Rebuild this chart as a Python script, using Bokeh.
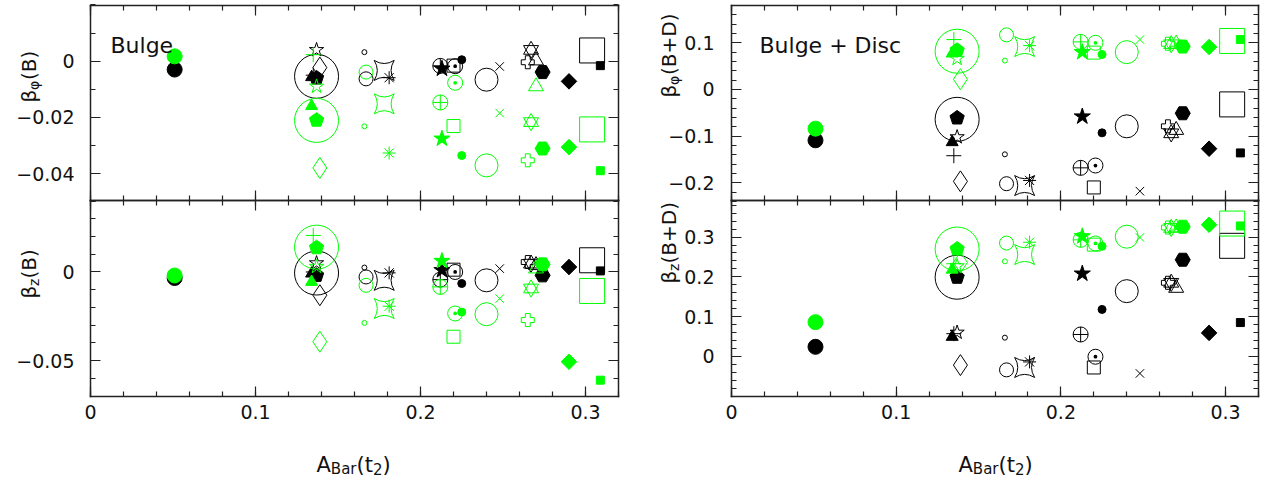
import math
from bokeh.plotting import figure
from bokeh.models import FixedTicker, LinearAxis, Label, Range1d, CustomJSTickFormatter
from bokeh.embed import file_html
from bokeh.resources import INLINE

# ---------------- data ----------------
models = ["fcircle", "bigcircle", "pentagon", "ftriangle", "ostar", "plus", "odiamond",
          "tinycircle", "ocircle", "concsquare", "asterisk", "circplus", "fstar", "circdot",
          "osquare", "smallfcircle", "bigcircle2", "xcross", "davidstar", "greekcross",
          "otriangle", "fhexagon", "fdiamond", "bigsquare", "fsquare"]

A_bar = [0.051, 0.137, 0.137, 0.134, 0.137, 0.135, 0.139, 0.166, 0.167, 0.178, 0.181, 0.212, 0.213,
         0.221, 0.220, 0.225, 0.240, 0.248, 0.267, 0.265, 0.270, 0.274, 0.290, 0.304, 0.309]

bphi_B_black = [-0.0030, -0.0054, -0.0060, -0.0057, 0.0040, -0.0050, -0.0023, 0.0032, -0.0063, -0.0033,
                -0.0059, -0.0017, -0.0027, -0.0018, -0.0016, 0.0005, -0.0066, -0.0019, 0.0040, -0.0004,
                0.0002, -0.0039, -0.0072, 0.0038, -0.0016]
bphi_B_green = [0.0017, -0.0211, -0.0210, -0.0160, -0.0090, 0.0023, -0.0380, -0.0232, -0.0039, -0.0152,
                -0.0327, -0.0147, -0.0276, -0.0077, -0.0231, -0.0336, -0.0371, -0.0185, -0.0217, -0.0353,
                -0.0090, -0.0311, -0.0306, -0.0243, -0.0390]

bz_B_black = [-0.0034, -0.0006, -0.0019, -0.0009, 0.0050, 0.0000, -0.0131, 0.0025, -0.0028, -0.0047,
              -0.0005, -0.0043, 0.0010, 0.0000, 0.0013, -0.0065, -0.0047, 0.0019, 0.0047, 0.0056,
              0.0038, -0.0019, 0.0028, 0.0066, 0.0006]
bz_B_green = [-0.0020, 0.0140, 0.0137, -0.0056, 0.0030, 0.0206, -0.0393, -0.0287, -0.0075, -0.0206,
              -0.0193, -0.0084, 0.0062, -0.0234, -0.0365, -0.0226, -0.0238, -0.0150, -0.0093, -0.0271,
              0.0019, 0.0043, -0.0506, -0.0107, -0.0610]

bphi_BD_black = [-0.109, -0.064, -0.061, -0.113, -0.102, -0.142, -0.197, -0.139, -0.202, -0.206,
                 -0.195, -0.168, -0.058, -0.163, -0.210, -0.093, -0.079, -0.218, -0.094, -0.079,
                 -0.087, -0.051, -0.127, -0.032, -0.136]
bphi_BD_green = [-0.084, 0.082, 0.084, 0.077, 0.066, 0.107, 0.022, 0.062, 0.117, 0.092,
                 0.094, 0.102, 0.080, 0.100, 0.079, 0.075, 0.080, 0.107, 0.097, 0.098,
                 0.098, 0.092, 0.091, 0.104, 0.107]

bz_BD_black = [0.024, 0.199, 0.199, 0.049, 0.060, 0.057, -0.022, 0.047, -0.034, -0.028,
               -0.014, 0.055, 0.208, -0.001, -0.028, 0.118, 0.164, -0.043, 0.185, 0.185,
               0.172, 0.243, 0.059, 0.278, 0.085]
bz_BD_green = [0.086, 0.270, 0.270, 0.218, 0.227, 0.233, 0.236, 0.239, 0.285, 0.256,
               0.287, 0.293, 0.302, 0.284, 0.281, 0.277, 0.301, 0.299, 0.323, 0.324,
               0.324, 0.326, 0.331, 0.334, 0.328]

x_ticks = [0.0, 0.1, 0.2, 0.3]
x_limits = (0.0, 0.32)

# ---------------- styles ----------------
BLACK = "#000000"
GREEN = "#00ff00"
FONT = "DejaVu Sans"
TXT = "#111111"
STYLE = {
    "fcircle": ("circle", 15, True),
    "bigcircle": ("circle", 44, False),
    "pentagon": ("pentagon", 15, True),
    "ftriangle": ("triangle", 12, True),
    "ostar": ("star", 15, False),
    "plus": ("cross", 15, False),
    "odiamond": ("diamond", 21, False),
    "tinycircle": ("circle", 5, False),
    "ocircle": ("circle", 14, False),
    "concsquare": ("square_pin", 20, False),
    "asterisk": ("asterisk", 13, False),
    "circplus": ("circle_cross", 15, False),
    "fstar": ("star", 17, True),
    "circdot": ("circle_dot", 15, False),
    "osquare": ("square", 13, False),
    "smallfcircle": ("circle", 8, True),
    "bigcircle2": ("circle", 23, False),
    "xcross": ("x", 12, False),
    "davidstar": ("david", 15, False),
    "greekcross": ("plus", 13, False),
    "otriangle": ("triangle", 15, False),
    "fhexagon": ("hex", 15, True),
    "fdiamond": ("square45", 11, True),
    "bigsquare": ("square", 25, False),
    "fsquare": ("square", 8, True),
}

WC, H = 1266, 479   # canvas size in px


def frange(a, b, step):
    n = int(round((b - a) / step))
    return [round(a + k * step, 4) for k in range(n + 1)]


# panel layout: pixel box (left, right, top, bottom) and value limits
PANELS = {
    "TL": dict(xname="default", yname="default", px=(90, 618), py=(5, 200), yv=(0.0198, -0.0496),
               major=[-0.04, -0.02, 0.0], minor=frange(-0.05, 0.02, 0.01), xlab=False, ystand=16),
    "BL": dict(xname="default", yname="bl", px=(90, 618), py=(200, 396), yv=(0.0403, -0.0702),
               major=[-0.05, 0.0], minor=frange(-0.07, 0.04, 0.01), xlab=True, ystand=16),
    "TR": dict(xname="xr", yname="tr", px=(731, 1258), py=(5, 200), yv=(0.180, -0.238),
               major=[-0.2, -0.1, 0.0, 0.1], minor=frange(-0.24, 0.18, 0.02), xlab=False, ystand=17),
    "BR": dict(xname="xr", yname="br", px=(731, 1258), py=(200, 396), yv=(0.392, -0.101),
               major=[0.0, 0.1, 0.2, 0.3], minor=frange(-0.10, 0.38, 0.02), xlab=True, ystand=17),
}


def x_range_for(px):
    s = (px[1] - px[0]) / (x_limits[1] - x_limits[0])
    return Range1d(x_limits[0] - px[0] / s, x_limits[0] + (WC - px[0]) / s), s


def y_range_for(py, yv):
    s = (py[1] - py[0]) / (yv[0] - yv[1])
    return Range1d(yv[1] - (H - py[1]) / s, yv[0] + py[0] / s), s


xl_rng, sxl = x_range_for((90, 618))
xr_rng, sxr = x_range_for((731, 1258))
yr = {}
for k, P in PANELS.items():
    yr[k] = y_range_for(P["py"], P["yv"])
    P["sx"] = sxl if P["xname"] == "default" else sxr
    P["sy"] = yr[k][1]

p = figure(width=WC, height=H, x_range=xl_rng, y_range=yr["TL"][0], x_axis_type=None, y_axis_type=None,
           output_backend="svg", toolbar_location=None, tools="", min_border=0,
           outline_line_color=None, background_fill_color="white", border_fill_color="white")
p.extra_x_ranges = {"xr": xr_rng}
p.extra_y_ranges = {"bl": yr["BL"][0], "tr": yr["TR"][0], "br": yr["BR"][0]}

fmt_code = """
const v = Math.abs(tick) < 1e-12 ? 0 : tick;
const s = String(Number(Math.abs(v).toFixed(3)));
return (v < 0 ? '\u2212' : '') + s;
"""


def add_axis(P, side, fixed, bounds, ticks, minor, labels, standoff):
    ax = LinearAxis(ticker=FixedTicker(ticks=ticks, minor_ticks=minor),
                    formatter=CustomJSTickFormatter(code=fmt_code),
                    fixed_location=fixed, bounds=bounds,
                    x_range_name=P["xname"], y_range_name=P["yname"],
                    major_tick_in=10, major_tick_out=0, minor_tick_in=5, minor_tick_out=0,
                    axis_line_color="#222222", axis_line_width=1.5, axis_line_cap="square",
                    major_tick_line_color="#222222", minor_tick_line_color="#222222",
                    major_tick_line_width=1.2, minor_tick_line_width=1.2)
    if labels:
        ax.major_label_text_font = FONT
        ax.major_label_text_font_size = "19px"
        ax.major_label_text_color = TXT
        ax.major_label_standoff = standoff
    else:
        ax.major_label_text_color = None
        ax.major_label_standoff = 0
    p.add_layout(ax, side)


for k, P in PANELS.items():
    ybounds = (P["yv"][1], P["yv"][0])
    xminor = frange(0.0, 0.32, 0.02)
    add_axis(P, "left", x_limits[0], ybounds, P["major"], P["minor"], True, P["ystand"])
    add_axis(P, "right", x_limits[1], ybounds, P["major"], P["minor"], False, 0)
    add_axis(P, "above", P["yv"][0], x_limits, x_ticks, xminor, False, 0)
    add_axis(P, "below", P["yv"][1], x_limits, x_ticks, xminor, P["xlab"], 8)


def draw_models(P, xs, ys, color):
    rn = dict(x_range_name=P["xname"], y_range_name=P["yname"])
    for i, name in enumerate(models):
        kind, size, filled = STYLE[name]
        x, y = xs[i], ys[i]
        fc = color if filled else None
        common = dict(line_color=color, line_width=1.0, **rn)
        if kind == "pentagon":
            r = size / 2
            th = [math.radians(90 + 72 * k) for k in range(5)]
            p.patch([x + r / P["sx"] * math.cos(t) for t in th],
                    [y + r / P["sy"] * math.sin(t) for t in th], fill_color=fc, **common)
        elif kind == "david":
            p.scatter([x], [y], marker="triangle", size=size, fill_color=None, **common)
            p.scatter([x], [y], marker="inverted_triangle", size=size, fill_color=None, **common)
        elif kind == "square45":
            p.scatter([x], [y], marker="square", size=size, angle=math.pi / 4, fill_color=fc, **common)
        else:
            p.scatter([x], [y], marker=kind, size=size, fill_color=fc, **common)


for k, yb, yg in [("TL", bphi_B_black, bphi_B_green), ("BL", bz_B_black, bz_B_green),
                  ("TR", bphi_BD_black, bphi_BD_green), ("BR", bz_BD_black, bz_BD_green)]:
    draw_models(PANELS[k], A_bar, yb, BLACK)
    draw_models(PANELS[k], A_bar, yg, GREEN)

W = {"A": .684, "B": .686, "a": .613, "r": .411, "(": .390, ")": .390, "t": .392, "2": .636,
     "β": .630, "φ": .705, "z": .525, "+": .838, "D": .770, " ": .318}


def tw(s, size):
    return sum(W.get(c, 0.6) for c in s) * size


def add_ylabel(parts, x_page, y_page_start):
    y = H - y_page_start
    for txt, size, shift in parts:
        p.add_layout(Label(x=x_page + shift, y=y, x_units="screen", y_units="screen", text=txt,
                           angle=90, angle_units="deg", text_font=FONT, text_font_size=f"{size}px",
                           text_color=TXT, text_baseline="alphabetic", text_align="left"))
        y += tw(txt, size)


def add_xlabel(parts, x_page, y_page_base):
    x = x_page
    for txt, size, shift in parts:
        p.add_layout(Label(x=x, y=H - y_page_base - shift, x_units="screen", y_units="screen", text=txt,
                           text_font=FONT, text_font_size=f"{size}px", text_color=TXT,
                           text_baseline="alphabetic", text_align="left"))
        x += tw(txt, size)


add_ylabel([("β", 20, 0), ("φ", 14, 5), ("(B)", 20, 0)], 28, 102)
add_ylabel([("β", 20, 0), ("z", 14, 5), ("(B)", 20, 0)], 28, 298)
add_ylabel([("β", 20, 0), ("φ", 14, 5), ("(B+D)", 20, 0)], 668, 97)
add_ylabel([("β", 20, 0), ("z", 14, 5), ("(B+D)", 20, 0)], 668, 283)

xl = [("A", 21, 0), ("Bar", 15, 4), ("(t", 21, 0), ("2", 15, 4), (")", 21, 0)]
add_xlabel(xl, 316, 464)
add_xlabel(xl, 958, 464)

p.add_layout(Label(x=110, y=H - 44.5, x_units="screen", y_units="screen", text="Bulge",
                   text_font=FONT, text_font_size="22px", text_color=TXT, text_baseline="alphabetic"))
p.add_layout(Label(x=759, y=H - 44.5, x_units="screen", y_units="screen", text="Bulge + Disc",
                   text_font=FONT, text_font_size="22px", text_color=TXT, text_baseline="alphabetic"))

open("out.html", "w").write(file_html(p, INLINE))
